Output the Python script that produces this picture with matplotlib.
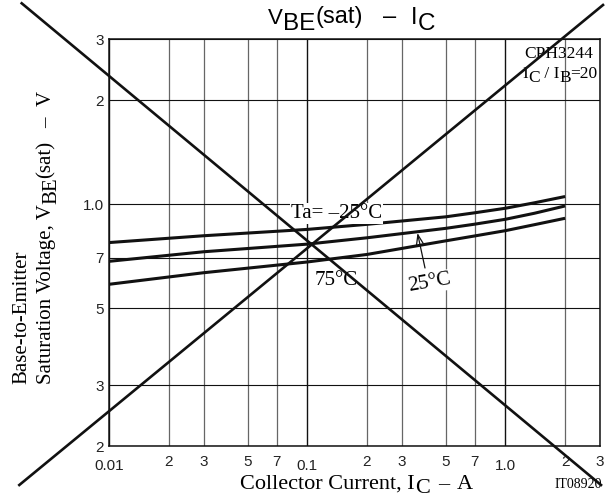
import numpy as np
import matplotlib.pyplot as plt
from matplotlib.lines import Line2D
from matplotlib.transforms import IdentityTransform

W, H = 615, 499

# collector current (A) and base-emitter saturation voltage (V) per temperature
ic = [0.01, 0.03, 0.1, 0.2, 0.5, 0.7, 1.0, 1.4, 2.0]
vbe_m25 = [0.775, 0.811, 0.846, 0.875, 0.920, 0.945, 0.974, 1.010, 1.053]
vbe_25 = [0.684, 0.729, 0.767, 0.800, 0.852, 0.876, 0.905, 0.942, 0.989]
vbe_75 = [0.587, 0.634, 0.681, 0.716, 0.784, 0.810, 0.839, 0.873, 0.911]

x_major = [0.01, 0.1, 1.0]
x_major_labels = ['0.01', '0.1', '1.0']
x_minor = [0.02, 0.03, 0.05, 0.07, 0.2, 0.3, 0.5, 0.7, 2, 3]
x_minor_labels = ['2', '3', '5', '7', '2', '3', '5', '7', '2', '3']
y_ticks = [0.2, 0.3, 0.5, 0.7, 1.0, 2, 3]
y_labels = ['2', '3', '5', '7', '1.0', '2', '3']

# the two cross-out strokes, pixels from top-left
cross_a = [(21.7, 3.3), (601, 485)]
cross_b = [(19.3, 485), (603, 5)]

SANS = 'Liberation Sans'
SERIF = 'Liberation Serif'


def rich(fig, x, y, parts, size, family, rotation=0, **kw):
    # parts: (text, shift down px, gap after px[, size]); x, y from top-left
    r = fig.canvas.get_renderer()
    cx, cy = x, H - y
    for p in parts:
        s, down, gap = p[:3]
        fs = p[3] if len(p) > 3 else size
        if rotation == 0:
            px, py = cx, cy - down
        else:
            px, py = cx + down, cy
        t = fig.text(px, py, s, transform=IdentityTransform(), fontsize=fs,
                     family=family, rotation=rotation, ha='left', va='baseline',
                     rotation_mode='anchor', **kw)
        bb = t.get_window_extent(r)
        if rotation == 0:
            cx += bb.width + gap
        else:
            cy += bb.height + gap


fig = plt.figure(figsize=(W / 100, H / 100), dpi=100)
ax = fig.add_axes([109 / W, 1 - 446 / H, (600 - 109) / W, (446 - 39.3) / H])

ax.plot(ic, vbe_m25, color='#111', lw=2.2, solid_capstyle='butt', zorder=4)
ax.plot(ic, vbe_25, color='#111', lw=2.2, solid_capstyle='butt', zorder=4)
ax.plot(ic, vbe_75, color='#111', lw=2.2, solid_capstyle='butt', zorder=4)

ax.set_xscale('log')
ax.set_yscale('log')
ax.set_xlim(0.01, 3)
ax.set_ylim(0.2, 3)

ax.set_xticks(x_major)
ax.set_xticklabels(x_major_labels)
ax.set_xticks(x_minor, minor=True)
ax.set_xticklabels(x_minor_labels, minor=True)
ax.set_yticks(y_ticks)
ax.set_yticklabels(y_labels)
ax.yaxis.set_minor_locator(plt.NullLocator())

ax.tick_params(axis='both', which='both', length=0, labelsize=11, labelfontfamily=SANS, labelcolor='#222')
ax.tick_params(axis='x', which='major', pad=9.4)
ax.tick_params(axis='x', which='minor', pad=6.5)
ax.tick_params(axis='y', pad=3.6)

ax.grid(True, axis='x', which='major', color='#111', lw=1.0)
ax.grid(True, axis='x', which='minor', color='#666', lw=0.9)
ax.grid(True, axis='y', which='major', color='#111', lw=0.8)
for sp in ax.spines.values():
    sp.set_linewidth(1.1)
    sp.set_color('#111')

# title
rich(fig, 268, 23.5, [('V', 0, 0, 16), ('BE', 6.5, 0, 17.5), ('(sat)', 0, 20, 17),
                      ('\u2013', 0, 15, 17), ('I', 0, 0, 17), ('C', 7, 0, 17.5)], 17, SANS)

# axis labels
rich(fig, 240, 489, [('Collector Current, I', 0, 0), ('C', 4, 9), ('\u2013', 0, 7),
                     ('A', 0, 0)], 16, SERIF)
rich(fig, 26, 384, [('Base-to-Emitter', 0, 0)], 15, SERIF, rotation=90)
rich(fig, 51, 384, [('Saturation Voltage, V', 0, 0), ('BE', 5, 0), ('(sat)', 0, 12),
                    ('\u2013', 0, 12), ('V', 0, 0)], 15, SERIF, rotation=90)

# part number and condition
fig.text(593, H - 58, 'CPH3244', transform=IdentityTransform(), fontsize=12.5,
         family=SERIF, ha='right', va='baseline')
rich(fig, 522, 78, [('I', 0, 0), ('C', 4, 0), (' / I', 0, 0), ('B', 4, 0), ('=20', 0, 0)],
     12.5, SERIF)

# curve labels
box = dict(fc='white', ec='none', pad=0.6)
fig.text(291, H - 218, 'Ta= \u201325\u00b0C', transform=IdentityTransform(), fontsize=15,
         family=SERIF, ha='left', va='baseline', bbox=box)
fig.text(315, H - 285, '75\u00b0C', transform=IdentityTransform(), fontsize=15,
         family=SERIF, ha='left', va='baseline')
fig.text(409, H - 291, '25\u00b0C', transform=IdentityTransform(), fontsize=15,
         family=SERIF, ha='left', va='baseline', rotation=10, rotation_mode='anchor', bbox=box)
ax.annotate('', xy=(0.36, 0.826), xycoords='data', xytext=(425, H - 268),
            textcoords='figure pixels',
            arrowprops=dict(arrowstyle='->, head_length=0.7, head_width=0.25', lw=0.9,
                            color='#111', shrinkA=0, shrinkB=0))

fig.text(602, H - 488, 'IT08920', transform=IdentityTransform(), fontsize=10,
         family=SERIF, ha='right', va='baseline')

# cross-out strokes over the whole chart
for pts in (cross_a, cross_b):
    xs = [p[0] / W for p in pts]
    ys = [1 - p[1] / H for p in pts]
    fig.add_artist(Line2D(xs, ys, transform=fig.transFigure, color='#111', lw=1.9, zorder=10))

fig.savefig('out.png', dpi=100)
